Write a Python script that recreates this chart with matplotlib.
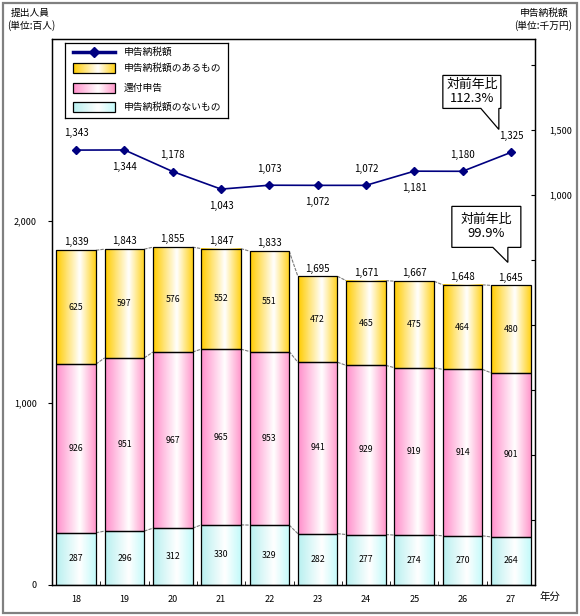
import numpy as np
import matplotlib
matplotlib.use('Agg')
import matplotlib.pyplot as plt
from matplotlib.colors import LinearSegmentedColormap
from matplotlib.patches import Rectangle, Polygon
from matplotlib.lines import Line2D

plt.rcParams['font.family'] = ['Noto Sans CJK JP', 'DejaVu Sans']

# data
years = ['18', '19', '20', '21', '22', '23', '24', '25', '26', '27']
no_tax = [287, 296, 312, 330, 329, 282, 277, 274, 270, 264]      # 申告納税額のないもの
refund = [926, 951, 967, 965, 953, 941, 929, 919, 914, 901]      # 還付申告
with_tax = [625, 597, 576, 552, 551, 472, 465, 475, 464, 480]    # 申告納税額のあるもの
totals = [1839, 1843, 1855, 1847, 1833, 1695, 1671, 1667, 1648, 1645]
tax_amount = [1343, 1344, 1178, 1043, 1073, 1072, 1072, 1181, 1180, 1325]  # 申告納税額
line_label_pos = ['up', 'down', 'up', 'down', 'up', 'down', 'up', 'down', 'up', 'up']

W, H = 580, 616
fig = plt.figure(figsize=(W / 100, H / 100), dpi=100)


def fx(px):
    return px / W


def fy(py):
    return 1 - py / H


# outer frame
fig.patches.append(Rectangle((fx(3), fy(613)), fx(574), 610 / H, transform=fig.transFigure,
                             fill=False, edgecolor='#808080', lw=1.6))

ax = fig.add_axes([fx(52), fy(585), fx(535 - 52), (585 - 38.6) / H])
ax2 = ax.twinx()

cmaps = {
    'yellow': LinearSegmentedColormap.from_list('y', [(0, '#FFCC00'), (0.6, '#FFFFFF'), (1, '#FFD21A')]),
    'pink': LinearSegmentedColormap.from_list('p', [(0, '#FF8FCB'), (0.6, '#FFFFFF'), (1, '#FF99CC')]),
    'cyan': LinearSegmentedColormap.from_list('c', [(0, '#B8F0F0'), (0.6, '#FFFFFF'), (1, '#C4FAFA')]),
}
grad = np.linspace(0, 1, 64).reshape(1, -1)


def grad_bar(a, x, bottom, height, width, cmap):
    x0, x1 = x - width / 2, x + width / 2
    a.imshow(grad, extent=[x0, x1, bottom, bottom + height], aspect='auto', cmap=cmap,
             interpolation='bicubic', zorder=2)
    a.add_patch(Rectangle((x0, bottom), width, height, fill=False, edgecolor='black', lw=0.9, zorder=3))


bw = 0.82
xs = np.arange(len(years))
series = [(no_tax, 'cyan'), (refund, 'pink'), (with_tax, 'yellow')]
bottom = np.zeros(len(years))
levels = []
for vals, c in series:
    vals = np.array(vals)
    for i in xs:
        grad_bar(ax, i, bottom[i], vals[i], bw, cmaps[c])
        ax.text(i, bottom[i] + vals[i] / 2, str(vals[i]), ha='center', va='center', fontsize=6.3, zorder=4)
    bottom = bottom + vals
    levels.append(bottom.copy())

# series lines between bars
for lev in levels:
    for i in xs[:-1]:
        ax.plot([i + bw / 2, i + 1 - bw / 2], [lev[i], lev[i + 1]], color='#7a7a7a', lw=0.8,
                ls=(0, (3, 1)), zorder=1)

for i in xs:
    ax.annotate(f'{totals[i]:,}', (i, levels[-1][i]), xytext=(0, 2), textcoords='offset points',
                ha='center', va='bottom', fontsize=7)

ax.set_xlim(-0.5, len(years) - 0.5)
ax.set_ylim(0, 3000)
ax.set_yticks([0, 1000, 2000])
ax.set_yticklabels(['0', '1,000', '2,000'], fontsize=6.5)
ax.tick_params(axis='y', direction='out', length=3, pad=8)
ax.set_xticks(xs)
ax.set_xticklabels(years, fontsize=6.5)
ax.tick_params(axis='x', length=0, pad=7)
ax.set_xticks(np.arange(-0.5, len(years)), minor=True)
ax.tick_params(axis='x', which='minor', direction='in', length=3)

# tax amount line
ax2.plot(xs, tax_amount, color='#000080', lw=1.2, marker='D', markersize=4, zorder=5)
for i in xs:
    off = 12 if line_label_pos[i] == 'up' else -12
    ax2.annotate(f'{tax_amount[i]:,}', (i, tax_amount[i]), xytext=(0, off), textcoords='offset points',
                 ha='center', va='center', fontsize=7)
ax2.set_ylim(-2000, 2200)
rt = np.arange(-2000, 2001, 500)
ax2.set_yticks(rt)
ax2.set_yticklabels(['1,000' if v == 1000 else '1,500' if v == 1500 else '' for v in rt], fontsize=6.5)
ax2.tick_params(axis='y', direction='in', length=3, pad=10)

for a in (ax, ax2):
    for s in a.spines.values():
        s.set_linewidth(0.9)

fig.canvas.draw()


def callout(anchor, box, tail, lines, fontsize=9.3):
    # box/tail given as pixel offsets from the anchor (x right, y down)
    ax0, ay0 = anchor
    l, t, r, b = box
    t1, tip, t2 = tail
    pts = [(l, t), (r, t), (r, b), (t2, b), tip, (t1, b), (l, b)]
    disp = [(ax0 + px, ay0 - py) for px, py in pts]
    fig.patches.append(Polygon(disp, closed=True, transform=None, facecolor='white',
                               edgecolor='black', lw=0.9, zorder=10))
    cx = ax0 + (l + r) / 2
    fig.text(cx / W, (ay0 - (t + b) / 2) / H, '\n'.join(lines), ha='center', va='center',
             fontsize=fontsize, linespacing=1.1, zorder=11)


p27 = ax2.transData.transform((xs[-1], tax_amount[-1]))
callout(p27, (-68, -77, -10, -44), (-30, (-12, -23), -12), ['対前年比', '112.3%'])
b27 = ax.transData.transform((xs[-1], levels[-1][-1]))
callout(b27, (-59, -79, 10, -38), (-18, (-3, -23), -3), ['対前年比', '99.9%'])

# legend
lg = fig.add_axes([fx(65), fy(118), fx(228 - 65), 75 / H])
lg.set_xticks([])
lg.set_yticks([])
for s in lg.spines.values():
    s.set_linewidth(0.9)
lg.add_line(Line2D([73, 94, 115], [52, 52, 52], color='#000080', lw=2.5, marker='D', markersize=5,
                   markevery=[1], markerfacecolor='#000080'))
lg.text(124, 52, '申告納税額', va='center', fontsize=7)
for yc, c, lab in [(68, 'yellow', '申告納税額のあるもの'), (88, 'pink', '還付申告'), (107, 'cyan', '申告納税額のないもの')]:
    lg.imshow(grad, extent=[73, 115, yc + 5, yc - 5], aspect='auto', cmap=cmaps[c], interpolation='bicubic')
    lg.add_patch(Rectangle((73, yc - 5), 42, 10, fill=False, edgecolor='black', lw=0.9))
    lg.text(124, yc, lab, va='center', fontsize=7)
lg.set_xlim(65, 228)
lg.set_ylim(118, 43)

# axis titles
fig.text(fx(11), fy(13), '提出人員', fontsize=7, va='center')
fig.text(fx(7), fy(26), '(単位:百人)', fontsize=7, va='center')
fig.text(fx(569), fy(13), '申告納税額', fontsize=7, va='center', ha='right')
fig.text(fx(572), fy(26), '(単位:千万円)', fontsize=7, va='center', ha='right')
fig.text(fx(539), fy(597), '年分', fontsize=7.5, va='center')

fig.savefig('out.png', dpi=100)
